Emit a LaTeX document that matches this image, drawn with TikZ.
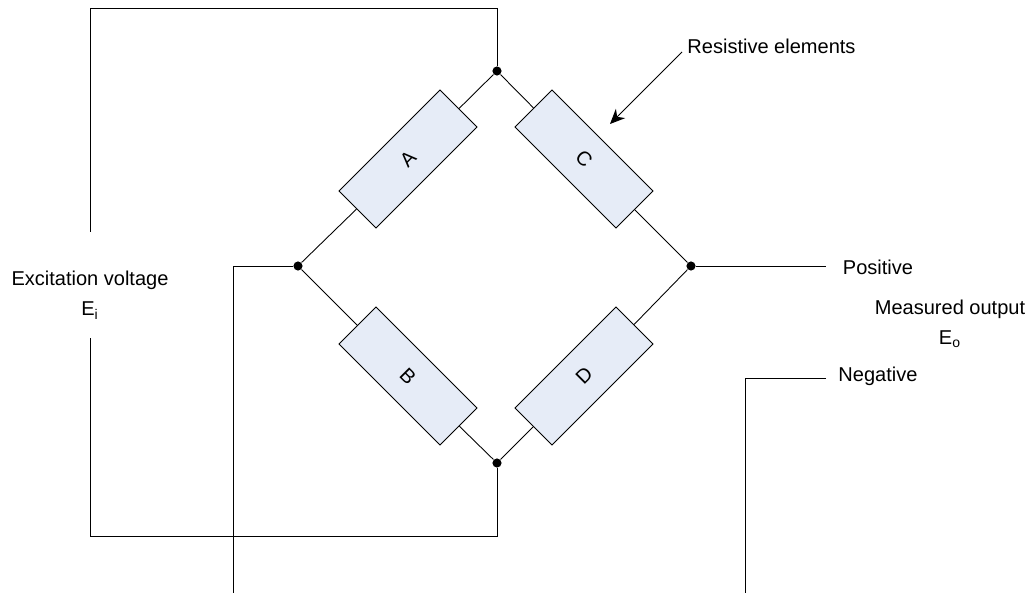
\documentclass[tikz,border=0pt]{standalone}
\usepackage{fontspec}
\setmainfont{Liberation Sans}
\usetikzlibrary{positioning}
\usetikzlibrary{arrows.meta}
\definecolor{boxfill}{HTML}{E6ECF7}
\tikzset{dot node/.style={circle,fill=black,minimum size=5.2pt,inner sep=0pt},}
\tikzset{arm node/.style={draw,fill=boxfill,line width=0.5pt,minimum width=81.3pt,minimum height=29.8pt,inner sep=0pt,font=\fontsize{11.4}{13}\selectfont},}
\tikzset{label node/.style={inner sep=0pt,align=center,font=\fontsize{11.4}{17.3}\selectfont},}

\begin{document}
\begin{tikzpicture}[x=0.02cm,y=0.02cm,line width=0.5pt]
      \useasboundingbox (0,0) rectangle (1029,593);

      \node[dot node] (top) at (497,522) {};
      \node[dot node] (left) at (298,327) {};
      \node[dot node] (right) at (691,327) {};
      \node[dot node] (bottom) at (497,130) {};

      \node[arm node,rotate=45] (A) at (408,434) {A};
      \node[arm node,rotate=-45] (B) at (408,217) {B};
      \node[arm node,rotate=-45] (C) at (584,434) {C};
      \node[arm node,rotate=45] (D) at (584,217) {D};

      \node[label node] (resistive) at (771.5,547) {Resistive elements};
      \node[label node] (excitation) at (90,298) {Excitation voltage\\E\textsubscript{i}};
      \node[label node] (positive) at (878,326) {Positive};
      \node[label node] (negative) at (878,217) {Negative};
      \node[label node] (measured) at (950,269) {Measured output\\E\textsubscript{o}};

      \coordinate (topcorner) at (497,585);
      \coordinate (lefttop) at (90,585);
      \coordinate (leftend) at (90,361);
      \coordinate (botcorner) at (497,57);
      \coordinate (leftbot) at (90,57);
      \coordinate (leftstart) at (90,255);
      \coordinate (lead) at (233,327);
      \coordinate (leadend) at (233,0);
      \coordinate (posend) at (826,327);
      \coordinate (negend) at (826,215);
      \coordinate (negcorner) at (745,215);
      \coordinate (negstart) at (745,0);
      \coordinate (arrowstart) at (682,541);
      \coordinate (arrowtip) at (610,469);

      \path[draw]
      (top) -- (A)
      (A) -- (left)
      (left) -- (B)
      (B) -- (bottom)
      (top) -- (C)
      (C) -- (right)
      (right) -- (D)
      (D) -- (bottom);

      \draw (top) -- (topcorner) -- (lefttop) -- (leftend);
      \draw (bottom) -- (botcorner) -- (leftbot) -- (leftstart);
      \draw (left) -- (lead) -- (leadend);
      \draw (right) -- (posend);
      \draw (negend) -- (negcorner) -- (negstart);
      \draw[-{Stealth[length=8.5pt,width=7.5pt]}] (arrowstart) -- (arrowtip);
\end{tikzpicture}
\end{document}
